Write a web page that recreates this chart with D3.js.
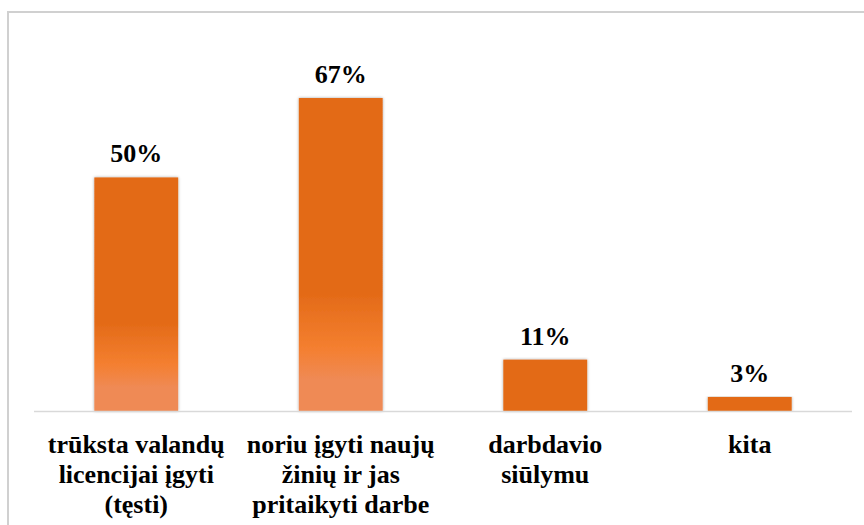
<!DOCTYPE html>
<html>
<head>
<meta charset="utf-8">
<script src="https://cdn.jsdelivr.net/npm/d3@7"></script>
<style>
  body { margin: 0; background: #fff; }
  svg { display: block; }
</style>
</head>
<body>
<svg width="864" height="525"></svg>
<script>
  var categories = ['trūksta valandų licencijai įgyti (tęsti)', 'noriu įgyti naujų žinių ir jas pritaikyti darbe', 'darbdavio siūlymu', 'kita']
  var categoryLines = [
    ['trūksta valandų', 'licencijai įgyti', '(tęsti)'],
    ['noriu įgyti naujų', 'žinių ir jas', 'pritaikyti darbe'],
    ['darbdavio', 'siūlymu'],
    ['kita']
  ]
  var values = [50, 67, 11, 3]
  var valueLabels = ['50%', '67%', '11%', '3%']

  var svg = d3.select('svg')
  var baseY = 411
  var font = '"Liberation Serif", "Times New Roman", serif'

  // chart frame: only left and top edges fall inside the picture
  svg.append('rect')
    .attr('x', 7).attr('y', 11)
    .attr('width', 2).attr('height', 514)
    .attr('fill', '#d0d0d0')
  svg.append('rect')
    .attr('x', 7).attr('y', 11)
    .attr('width', 857).attr('height', 2)
    .attr('fill', '#d0d0d0')

  var defs = svg.append('defs')
  var grad = defs.append('linearGradient')
    .attr('id', 'barGrad')
    .attr('x1', 0).attr('y1', 0).attr('x2', 0).attr('y2', 1)
  grad.append('stop').attr('offset', '0').attr('stop-color', '#e36a17')
  grad.append('stop').attr('offset', '0.62').attr('stop-color', '#e36a17')
  grad.append('stop').attr('offset', '0.8').attr('stop-color', '#f47f30')
  grad.append('stop').attr('offset', '0.9').attr('stop-color', '#ef8a55')
  grad.append('stop').attr('offset', '1').attr('stop-color', '#ef8a55')

  var shadow = defs.append('filter')
    .attr('id', 'shadow')
    .attr('x', '-20%').attr('y', '-5%').attr('width', '140%').attr('height', '110%')
  shadow.append('feDropShadow')
    .attr('dx', 0).attr('dy', 0)
    .attr('stdDeviation', 1.8)
    .attr('flood-color', '#000')
    .attr('flood-opacity', 0.35)

  var x = d3.scaleBand()
    .domain(categories)
    .range([34, 852])
    .paddingInner(0.59)
    .paddingOuter(0.295)

  var y = d3.scaleLinear()
    .domain([0, 70])
    .range([baseY, 84])

  // bars
  svg.selectAll('rect.bar')
    .data(values)
    .enter()
    .append('rect')
    .attr('class', 'bar')
    .attr('x', function(d, i){ return x(categories[i]) })
    .attr('y', function(d){ return y(d) })
    .attr('width', x.bandwidth())
    .attr('height', function(d){ return baseY - y(d) })
    .attr('fill', function(d){ return d > 20 ? 'url(#barGrad)' : '#e36a17' })
    .attr('filter', 'url(#shadow)')

  // category axis line
  svg.append('line')
    .attr('x1', 34).attr('x2', 852)
    .attr('y1', baseY + 0.5).attr('y2', baseY + 0.5)
    .attr('stroke', '#d9d9d9')
    .attr('stroke-width', 1.5)

  // value labels
  svg.selectAll('text.val')
    .data(values)
    .enter()
    .append('text')
    .attr('class', 'val')
    .attr('x', function(d, i){ return x(categories[i]) + x.bandwidth() / 2 })
    .attr('y', function(d){ return y(d) - 15 })
    .attr('text-anchor', 'middle')
    .attr('font-family', font)
    .attr('font-weight', 'bold')
    .attr('font-size', 26)
    .attr('fill', '#000')
    .text(function(d, i){ return valueLabels[i] })

  // category labels
  var labels = svg.selectAll('text.cat')
    .data(categoryLines)
    .enter()
    .append('text')
    .attr('class', 'cat')
    .attr('text-anchor', 'middle')
    .attr('font-family', font)
    .attr('font-weight', 'bold')
    .attr('font-size', 26)
    .attr('fill', '#000')
    .attr('transform', function(d, i){
      return 'translate(' + (x(categories[i]) + x.bandwidth() / 2) + ',' + (baseY + 42) + ')'
    })

  labels.selectAll('tspan')
    .data(function(d){ return d })
    .enter()
    .append('tspan')
    .attr('x', 0)
    .attr('y', function(d, i){ return i * 30 })
    .text(function(d){ return d })
</script>
</body>
</html>
